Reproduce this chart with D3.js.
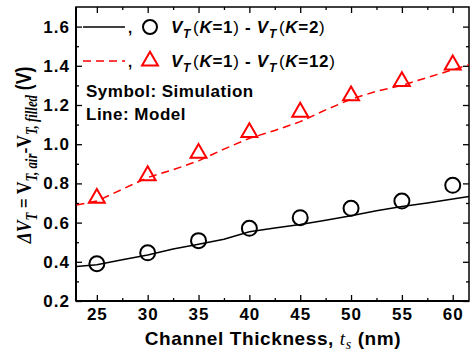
<!DOCTYPE html>
<html>
<head>
<meta charset="utf-8">
<script src="https://cdn.jsdelivr.net/npm/d3@7"></script>
<style>
  body { margin: 0; background: #fff; }
  svg text { font-family: "Liberation Sans", Arial, sans-serif; font-weight: bold; }
  .serif { font-family: "Liberation Serif", "Times New Roman", serif; }
</style>
</head>
<body>
<svg id="chart" width="472" height="354"></svg>
<script>
// simulation points
const thickness = [25, 30, 35, 40, 45, 50, 55, 60];
const simK2 = [0.39, 0.446, 0.508, 0.571, 0.625, 0.673, 0.71, 0.79];
const simK12 = [0.725, 0.84, 0.954, 1.06, 1.164, 1.248, 1.32, 1.405];

// model curves
const modelX = [23, 25, 27.5, 30, 32.5, 35, 37.5, 40, 42.5, 45, 47.5, 50, 52.5, 55, 57.5, 60, 61.6];
const modelK2 = [0.376, 0.385, 0.41, 0.435, 0.465, 0.49, 0.515, 0.553, 0.572, 0.59, 0.612, 0.635, 0.66, 0.682, 0.7, 0.72, 0.733];
const modelK12 = [0.69, 0.71, 0.77, 0.83, 0.87, 0.915, 0.975, 1.03, 1.07, 1.115, 1.175, 1.23, 1.27, 1.30, 1.34, 1.38, 1.405];

const xTicks = [25, 30, 35, 40, 45, 50, 55, 60];
const yTicks = [0.2, 0.4, 0.6, 0.8, 1.0, 1.2, 1.4, 1.6];

const margin = { left: 76, top: 7, right: 3, bottom: 53 };
const width = 472 - margin.left - margin.right;
const height = 354 - margin.top - margin.bottom;

const svg = d3.select("#chart");
const g = svg.append("g").attr("transform", "translate(" + margin.left + "," + margin.top + ")");

const x = d3.scaleLinear().domain([22.95, 61.6]).range([0, width]);
const y = d3.scaleLinear().domain([0.2, 1.7]).range([height, 0]);

const xMinor = d3.range(22.5, 62, 2.5).filter(v => xTicks.indexOf(v) < 0 && v > 23 && v < 61.6);
const yMinor = d3.range(0.3, 1.7, 0.2).map(v => +v.toFixed(1));

// axes, ticks pointing inward
g.append("g").attr("class", "ax").attr("transform", "translate(0," + height + ")")
  .call(d3.axisBottom(x).tickValues(xTicks).tickSizeInner(-6).tickSizeOuter(0).tickPadding(7).tickFormat(d3.format("d")));
g.append("g").attr("class", "ax").attr("transform", "translate(0," + height + ")")
  .call(d3.axisBottom(x).tickValues(xMinor).tickSizeInner(-3).tickSizeOuter(0).tickFormat(""));
g.append("g").attr("class", "ax")
  .call(d3.axisTop(x).tickValues(xTicks).tickSizeInner(-6).tickSizeOuter(0).tickFormat(""));
g.append("g").attr("class", "ax")
  .call(d3.axisTop(x).tickValues(xMinor).tickSizeInner(-3).tickSizeOuter(0).tickFormat(""));

g.append("g").attr("class", "ax")
  .call(d3.axisLeft(y).tickValues(yTicks).tickSizeInner(-6).tickSizeOuter(0).tickPadding(6).tickFormat(d3.format(".1f")));
g.append("g").attr("class", "ax")
  .call(d3.axisLeft(y).tickValues(yMinor).tickSizeInner(-3).tickSizeOuter(0).tickFormat(""));
g.append("g").attr("class", "ax").attr("transform", "translate(" + width + ",0)")
  .call(d3.axisRight(y).tickValues(yTicks).tickSizeInner(-6).tickSizeOuter(0).tickFormat(""));
g.append("g").attr("class", "ax").attr("transform", "translate(" + width + ",0)")
  .call(d3.axisRight(y).tickValues(yMinor).tickSizeInner(-3).tickSizeOuter(0).tickFormat(""));

g.selectAll(".ax .domain").remove();
g.selectAll(".ax line").attr("stroke", "#000").attr("stroke-width", 1.3);
g.selectAll(".ax text").attr("font-size", 17).attr("font-weight", "bold").attr("fill", "#000")
  .attr("letter-spacing", 1).attr("font-family", "Liberation Sans, Arial, sans-serif");

// frame
g.append("rect").attr("x", 0).attr("y", 0).attr("width", width).attr("height", height)
  .attr("fill", "none").attr("stroke", "#000").attr("stroke-width", 1.5);
g.append("line").attr("x1", 0).attr("x2", 0).attr("y1", 0).attr("y2", height).attr("stroke", "#000").attr("stroke-width", 2);
g.append("line").attr("x1", 0).attr("x2", width).attr("y1", height).attr("y2", height).attr("stroke", "#000").attr("stroke-width", 2);

g.append("clipPath").attr("id", "clip").append("rect").attr("width", width).attr("height", height);

const line = d3.line().x(d => x(d[0])).y(d => y(d[1]));
g.append("path").attr("clip-path", "url(#clip)")
  .attr("d", line(modelX.map((v, i) => [v, modelK2[i]])))
  .attr("fill", "none").attr("stroke", "#000").attr("stroke-width", 1.5);
g.append("path").attr("clip-path", "url(#clip)")
  .attr("d", line(modelX.map((v, i) => [v, modelK12[i]])))
  .attr("fill", "none").attr("stroke", "#f00").attr("stroke-width", 1.5).attr("stroke-dasharray", "8,5");

g.selectAll(".c").data(thickness).enter().append("circle")
  .attr("cx", d => x(d)).attr("cy", (d, i) => y(simK2[i])).attr("r", 7.5)
  .attr("fill", "none").attr("stroke", "#000").attr("stroke-width", 2);

const tri = d3.symbol().type(d3.symbolTriangle).size(110);
g.selectAll(".t").data(thickness).enter().append("path")
  .attr("d", tri).attr("transform", (d, i) => "translate(" + x(d) + "," + y(simK12[i]) + ")")
  .attr("fill", "none").attr("stroke", "#f00").attr("stroke-width", 2);

// legend
const leg = svg.append("g");
const rows = [
  { y: 27, stroke: "#000", dash: null, sym: "circle", k: "2" },
  { y: 61, stroke: "#f00", dash: "8,5", sym: "tri", k: "12" }
];
rows.forEach(r => {
  leg.append("line").attr("x1", 83).attr("x2", 125).attr("y1", r.y).attr("y2", r.y)
    .attr("stroke", r.stroke).attr("stroke-width", 1.5).attr("stroke-dasharray", r.dash);
  leg.append("text").attr("x", 128).attr("y", r.y + 6).attr("font-size", 15).text(",");
  if (r.sym === "circle") {
    leg.append("circle").attr("cx", 150).attr("cy", r.y).attr("r", 7)
      .attr("fill", "none").attr("stroke", "#000").attr("stroke-width", 2);
  } else {
    leg.append("path").attr("d", tri).attr("transform", "translate(150," + r.y + ")")
      .attr("fill", "none").attr("stroke", "#f00").attr("stroke-width", 2);
  }
  const t = leg.append("text").attr("x", 171).attr("y", r.y + 6).attr("font-size", 17).attr("letter-spacing", 0.7);
  t.append("tspan").attr("font-style", "italic").text("V");
  t.append("tspan").attr("font-style", "italic").attr("font-size", 12).attr("dy", 5).text("T");
  t.append("tspan").attr("dy", -5).attr("dx", 2).attr("font-weight", "normal").text("(");
  t.append("tspan").attr("font-style", "italic").text("K");
  t.append("tspan").text("=1");
  t.append("tspan").attr("font-weight", "normal").text(")");
  t.append("tspan").text(" - ");
  t.append("tspan").attr("font-style", "italic").text("V");
  t.append("tspan").attr("font-style", "italic").attr("font-size", 12).attr("dy", 5).text("T");
  t.append("tspan").attr("dy", -5).attr("dx", 2).attr("font-weight", "normal").text("(");
  t.append("tspan").attr("font-style", "italic").text("K");
  t.append("tspan").text("=" + r.k);
  t.append("tspan").attr("font-weight", "normal").text(")");
});

leg.append("text").attr("x", 86).attr("y", 97).attr("font-size", 17).attr("letter-spacing", 0.5).text("Symbol: Simulation");
leg.append("text").attr("x", 86).attr("y", 120).attr("font-size", 17).attr("letter-spacing", 0.5).text("Line: Model");

// x axis title
const xt = svg.append("text").attr("x", 273).attr("y", 345).attr("text-anchor", "middle")
  .attr("font-size", 19).attr("letter-spacing", 0.6);
xt.append("tspan").text("Channel Thickness, ");
xt.append("tspan").attr("class", "serif").attr("font-style", "italic").attr("font-weight", "normal").text("t");
xt.append("tspan").attr("class", "serif").attr("font-style", "italic").attr("font-weight", "normal").attr("font-size", 14).attr("dy", 4).text("s");
xt.append("tspan").attr("dy", -4).text(" (nm)");

// y axis title (squeezed along its length like the reference)
const yt = svg.append("text").attr("transform", "translate(31,155) rotate(-90) scale(0.8,1)")
  .attr("text-anchor", "middle").attr("font-size", 22);
yt.append("tspan").attr("class", "serif").attr("font-style", "italic").text("ΔV");
yt.append("tspan").attr("class", "serif").attr("font-style", "italic").attr("font-size", 16).attr("dy", 6).text("T");
yt.append("tspan").attr("class", "serif").attr("dy", -6).text(" = V");
yt.append("tspan").attr("class", "serif").attr("font-style", "italic").attr("font-size", 16).attr("dy", 6).text("T, air");
yt.append("tspan").attr("class", "serif").attr("dy", -6).text("-V");
yt.append("tspan").attr("class", "serif").attr("font-style", "italic").attr("font-size", 16).attr("dy", 6).text("T, filled");
yt.append("tspan").attr("dy", -6).text(" (V)");
</script>
</body>
</html>
